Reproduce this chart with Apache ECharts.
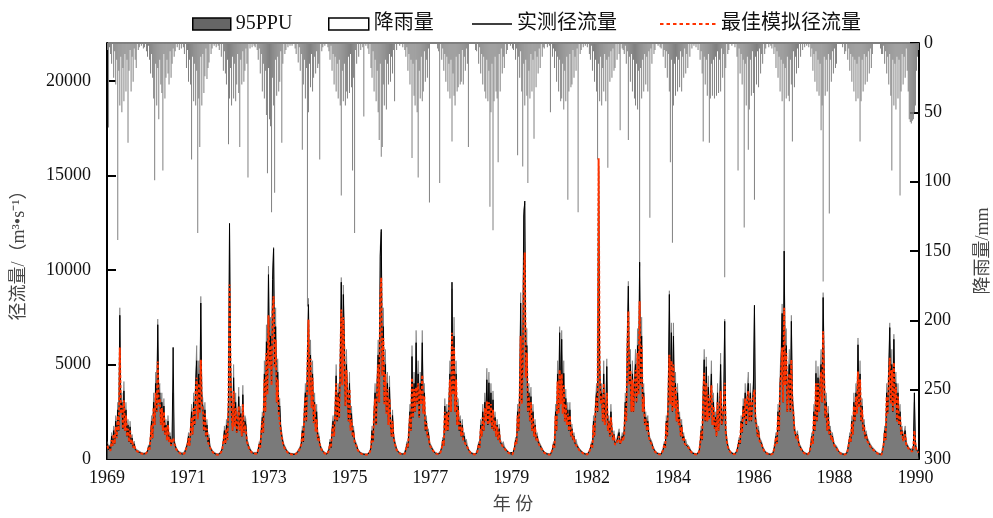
<!DOCTYPE html>
<html><head><meta charset="utf-8">
<script src="https://cdn.jsdelivr.net/npm/echarts@6/dist/echarts.min.js"></script>
<style>html,body{margin:0;padding:0;background:#fff}#c{width:993px;height:518px}</style>
</head><body><div id="c"></div>
<script>
// ---- data (dekad resolution, 36 values per year, 1969-1990) ----
const startYear = 1969;
const yearCount = 22;
const binsPerYear = 36;
const xTickDays = [0, 800, 1600, 2400, 3200, 4000, 4800, 5600, 6400, 7200, 8000];
const flowTicks = [0, 5000, 10000, 15000, 20000];

// observed runoff (m3/s)
const obsFlow = [
/*1969*/800,500,650,450,1200,700,1500,800,2000,1200,2600,1500,7600,2500,3000,1600,3600,1500,2600,1200,1800,900,1700,800,1100,600,800,500,600,400,450,350,330,300,280,270,
/*1970*/300,280,320,400,650,500,1200,2000,1100,3000,1800,4000,2500,7100,3000,3500,1800,3000,1500,2800,1300,1800,1000,2000,900,1200,700,1000,5900,900,700,550,450,380,330,300,
/*1971*/300,260,280,300,450,380,800,1200,700,1500,2500,1300,3000,1800,4000,5200,2200,4500,2500,8250,3000,2800,1500,2600,1200,1800,900,1100,600,500,420,350,300,280,250,230,
/*1972*/250,240,300,400,550,450,1500,800,1800,1000,3000,12460,5000,2500,1500,4300,1800,3000,1400,1800,3300,1500,2400,1200,3400,1400,2000,1800,900,800,600,500,400,350,300,280,
/*1973*/300,280,300,500,800,600,1500,2200,1400,4500,2500,6200,3500,9750,5000,6500,4000,9500,11130,5000,7000,3000,4600,2500,2800,1600,1200,900,700,600,500,400,350,300,280,260,
/*1974*/260,250,240,250,300,350,400,500,600,800,1500,900,2500,3500,2000,5000,8165,3500,5500,2800,4500,2000,3000,1500,2500,1000,1200,800,600,500,400,350,300,280,260,250,
/*1975*/500,900,600,1500,2000,1200,2500,4400,2000,3500,2200,5000,9350,4000,8700,6000,2800,5000,3500,2000,4000,1600,2400,1200,1500,900,1000,700,500,400,350,300,280,260,250,240,
/*1976*/240,230,250,300,400,600,1500,900,2500,3500,1800,4000,5500,3000,10730,12140,4500,7000,3000,5000,2500,4000,1800,3800,2000,1200,2300,1200,900,700,500,400,350,300,280,260,
/*1977*/260,250,300,500,800,600,1500,2500,1500,5420,2200,4000,2500,6150,3000,4500,2200,4000,3000,6150,2500,3500,1500,2000,1200,1400,800,700,600,500,400,350,300,280,260,250,
/*1978*/300,400,600,1000,700,2800,1500,2500,1500,2800,4500,2500,9350,3500,6500,2500,4500,1800,2800,1500,2000,1200,1800,1000,1200,800,900,650,500,400,350,300,280,260,250,240,
/*1979*/300,500,800,600,1800,1200,2500,1500,3000,2200,4190,1800,4030,2000,3500,1600,3130,1500,2200,1200,1800,1000,1600,900,1000,700,800,600,500,450,400,350,300,280,260,250,
/*1980*/300,600,1000,800,2500,1500,3500,8250,3000,5000,12850,13640,4500,6000,2500,3500,2000,3300,1500,2500,1200,1800,1000,1200,900,800,700,600,500,400,350,300,280,260,250,240,
/*1981*/240,300,500,800,600,2500,1500,4500,2500,6680,3000,6330,2500,4530,2000,3200,1800,2600,1500,2600,1200,1600,1000,1200,800,900,700,600,500,450,400,350,300,280,260,250,
/*1982*/250,300,400,500,800,600,2000,1200,2800,3500,2500,15500,5000,3000,3500,2000,4500,1800,2500,4890,1500,2000,1200,2500,1500,1000,1300,800,700,1000,900,1400,800,900,1200,1000,
/*1983*/1500,3000,2000,6000,9140,4000,5000,2500,4500,2500,4000,5000,3000,6000,3500,10410,4000,6500,2500,3500,1800,2200,1500,2000,1200,1000,900,800,600,500,400,350,300,280,260,250,
/*1984*/250,300,500,800,600,2000,1200,3500,8700,3000,6680,2500,6500,2800,4000,2000,3500,1800,2200,1200,1800,1000,1200,800,900,700,700,600,500,400,350,300,280,260,250,240,
/*1985*/240,400,800,1500,1000,3500,5250,2000,4880,2000,3800,2200,3000,4500,1800,3000,1600,2200,1200,3500,1500,2500,5000,1800,2000,3000,7280,1500,1000,700,500,400,350,300,280,260,
/*1986*/260,300,450,700,1000,800,2000,1400,2800,2200,3500,1800,3300,4000,2000,3500,2000,3000,3660,8130,2000,1800,1200,1500,1000,900,800,600,500,400,350,300,280,260,250,240,
/*1987*/240,300,500,800,1200,800,2500,1500,4000,5000,7700,3000,10990,4000,6000,2500,4000,5000,2500,7280,3000,2500,1500,1600,1100,1300,900,700,600,500,400,350,300,280,260,250,
/*1988*/250,400,800,1200,800,2500,1500,4530,2000,4300,2500,4000,5000,3000,8540,4500,2200,3000,1500,2400,1300,1500,1000,1200,900,700,700,600,500,400,350,300,280,260,250,240,
/*1989*/250,300,500,800,1200,900,2000,1300,3000,2000,3500,2500,6040,2800,4500,2000,2800,1500,1800,1100,1300,1000,900,800,700,600,550,500,450,400,350,300,280,260,250,240,
/*1990*/300,800,1500,1000,3500,2500,4500,6950,3000,5000,2500,6330,3000,4000,2000,3500,1800,2500,1300,1500,1000,900,1500,800,700,600,500,500,450,400,600,3500,800,500,400,350
];

// best simulated runoff (m3/s)
const simFlow = [
/*1969*/700,500,600,450,1000,700,1300,800,1700,1100,2300,1500,5890,2400,2800,1600,3100,1500,2300,1200,1600,900,1500,800,1000,600,750,500,550,400,420,340,320,290,270,260,
/*1970*/290,270,300,380,600,480,1100,1800,1100,2700,1800,3500,2500,5160,2800,3200,1800,2700,1500,2500,1300,1700,1000,1800,900,1100,700,950,1100,850,650,520,430,370,320,290,
/*1971*/280,250,270,290,420,370,750,1100,700,1400,2200,1300,2700,1800,3600,4300,2100,4000,2400,5250,2800,2600,1500,2400,1200,1600,900,1000,600,480,400,340,290,270,240,220,
/*1972*/240,230,290,380,520,430,1300,800,1600,1000,2800,9230,4500,2400,1500,3600,1700,2700,1400,1700,2800,1500,2200,1200,2900,1400,1800,1500,900,750,550,450,380,330,290,260,
/*1973*/280,260,280,480,750,600,1400,2000,1400,4200,2500,5600,3400,7600,4800,6000,3900,7800,8600,4800,6300,3000,4200,2400,2500,1500,1150,850,650,550,450,380,330,290,270,250,
/*1974*/240,230,220,230,280,330,380,480,580,750,1400,900,2300,3300,2000,4700,7370,3400,5300,2700,4300,1900,2900,1450,2100,1000,1150,750,570,480,380,330,290,260,250,240,
/*1975*/450,800,600,1400,1800,1200,2300,4000,2000,3300,2200,4600,7900,3900,7500,5600,2800,4700,3300,2000,3700,1500,2100,1200,1400,900,950,650,480,380,330,290,270,250,240,230,
/*1976*/230,220,240,280,380,580,1300,900,2300,3200,1800,3700,5000,3000,8500,9600,4400,6400,2900,4500,2400,3700,1800,3200,1900,1200,2000,1100,850,650,480,380,330,290,270,250,
/*1977*/250,240,280,480,750,600,1400,2300,1500,4300,2200,3700,2500,3800,2900,4000,2200,3700,2900,4450,2400,3300,1500,1900,1150,1300,800,650,570,480,380,330,290,270,250,240,
/*1978*/280,380,550,950,700,2500,1500,2400,1500,2700,4200,2500,6680,3400,5900,2500,4200,1800,2600,1500,1900,1200,1700,1000,1100,800,850,620,480,380,330,290,270,250,240,230,
/*1979*/280,450,750,600,1600,1200,2200,1500,2700,2000,3040,1800,3000,1900,2900,1600,2600,1500,2000,1200,1700,1000,1450,900,950,700,750,570,480,430,380,330,290,270,250,240,
/*1980*/280,550,950,800,2300,1500,3200,6500,2900,4700,9500,10920,4300,5600,2500,3300,2000,3000,1500,2200,1200,1700,1000,1150,850,750,650,570,480,380,330,290,270,250,240,230,
/*1981*/230,280,480,750,600,2300,1500,4100,2400,4720,2900,4500,2400,3900,2000,2900,1800,2400,1500,2300,1200,1500,1000,1150,800,850,650,570,480,430,380,330,290,270,250,240,
/*1982*/240,280,380,480,750,600,1800,1200,2600,3300,2500,15900,4700,2900,3300,2000,4000,1800,2400,3500,1500,1900,1200,2200,1450,1000,1250,750,650,900,850,1200,800,850,1100,950,
/*1983*/1300,2700,2000,5600,7810,3900,4700,2500,4200,2500,3800,4700,3000,5600,3400,8340,3900,6000,2500,3300,1800,2100,1500,1900,1150,950,850,750,570,480,380,330,290,270,250,240,
/*1984*/240,280,480,750,600,1900,1200,3200,5510,2900,5200,2500,5000,2700,3800,2000,3100,1800,2100,1200,1700,1000,1150,800,850,700,650,570,480,380,330,290,270,250,240,230,
/*1985*/230,380,750,1400,1000,3200,4560,2000,4000,2000,3400,2100,2900,3900,1800,2800,1600,2100,1200,3000,1500,2300,3600,1800,1900,2700,4030,1400,950,650,480,380,330,290,270,250,
/*1986*/250,280,430,650,950,800,1900,1400,2600,2100,3200,1800,3100,3600,2000,3200,2000,2900,3000,3660,2000,1750,1200,1450,950,850,750,570,480,380,330,290,270,250,240,230,
/*1987*/230,280,480,750,1150,800,2300,1500,3700,4600,5900,3000,8000,3900,5600,2500,3800,4500,2500,5250,2900,2400,1500,1550,1050,1250,850,650,570,480,380,330,290,270,250,240,
/*1988*/240,380,750,1150,800,2300,1500,4000,2000,4000,2500,3700,4600,3000,6750,4200,2200,2800,1500,2200,1300,1450,1000,1150,850,700,650,570,480,380,330,290,270,250,240,230,
/*1989*/240,280,480,750,1150,900,1900,1300,2800,2000,3300,2400,4630,2700,4200,2000,2600,1500,1700,1100,1250,950,850,750,650,570,520,480,430,380,330,290,270,250,240,230,
/*1990*/280,750,1400,1000,3300,2400,4200,5350,2900,4700,2500,5100,2900,3800,2000,3300,1800,2300,1300,1450,950,850,1300,750,650,570,480,480,430,380,550,1500,750,480,380,330
];

// 95PPU upper bound (m3/s)
const ppuUpper = [
/*1969*/920,600,750,520,1400,820,1750,950,2300,1400,3000,1750,8000,2900,3500,1900,4100,1750,3000,1400,2100,1050,2000,950,1300,700,950,600,700,480,520,420,390,350,330,320,
/*1970*/350,330,370,460,750,580,1400,2300,1300,3500,2100,4600,2900,7400,3500,4000,2100,3500,1750,3200,1500,2100,1150,2300,1050,1400,820,1200,3500,1050,820,640,520,440,380,350,
/*1971*/350,300,330,350,520,440,920,1400,820,1750,2900,1500,3500,2100,4600,6000,2600,5200,2900,8600,3500,3200,1750,3000,1400,2100,1050,1300,700,580,490,410,350,330,290,270,
/*1972*/290,280,350,460,640,520,1750,920,2100,1150,3500,12200,5800,2900,1750,5000,2100,3500,1600,2100,3800,1750,2800,1400,3900,1600,2300,2100,1050,920,700,580,460,400,350,320,
/*1973*/350,320,350,580,920,700,1750,2500,1600,5200,2900,7100,4000,10200,5800,7500,4600,10000,11200,5800,8000,3500,5300,2900,3200,1850,1400,1050,800,700,580,460,400,350,320,300,
/*1974*/300,290,280,290,350,400,460,580,700,920,1750,1050,2900,4000,2300,5800,8500,4000,6300,3200,5200,2300,3500,1750,2900,1150,1400,920,700,580,460,400,350,320,300,290,
/*1975*/580,1050,700,1750,2300,1400,2900,5000,2300,4000,2500,5800,9600,4600,9200,6900,3200,5800,4000,2300,4600,1850,2800,1400,1750,1050,1150,800,580,460,400,350,320,300,290,280,
/*1976*/280,270,290,350,460,700,1750,1050,2900,4000,2100,4600,6300,3500,11200,12000,5200,8000,3500,5800,2900,4600,2100,4400,2300,1400,2600,1400,1050,800,580,460,400,350,320,300,
/*1977*/300,290,350,580,920,700,1750,2900,1750,6000,2500,4600,2900,6800,3500,5200,2500,4600,3500,6800,2900,4000,1750,2300,1400,1600,920,800,700,580,460,400,350,320,300,290,
/*1978*/350,460,700,1150,800,3200,1750,2900,1750,3200,5200,2900,9000,4000,7500,2900,5200,2100,3200,1750,2300,1400,2100,1150,1400,920,1050,750,580,460,400,350,320,300,290,280,
/*1979*/350,580,920,700,2100,1400,2900,1750,3500,2500,4800,2100,4600,2300,4000,1850,3600,1750,2500,1400,2100,1150,1850,1050,1150,800,920,700,580,520,460,400,350,320,300,290,
/*1980*/350,700,1150,920,2900,1750,4000,8800,3500,5800,13200,13500,5200,6900,2900,4000,2300,3800,1750,2900,1400,2100,1150,1400,1050,920,800,700,580,460,400,350,320,300,290,280,
/*1981*/280,350,580,920,700,2900,1750,5200,2900,7000,3500,6800,2900,5200,2300,3700,2100,3000,1750,3000,1400,1850,1150,1400,920,1050,800,700,580,520,460,400,350,320,300,290,
/*1982*/290,350,460,580,920,700,2300,1400,3200,4000,2900,15200,5800,3500,4000,2300,5200,2100,2900,5300,1750,2300,1400,2900,1750,1150,1500,920,800,1150,1050,1600,920,1050,1400,1150,
/*1983*/1750,3500,2300,6900,9400,4600,5800,2900,5200,2900,4600,5800,3500,6900,4000,10400,4600,7500,2900,4000,2100,2500,1750,2300,1400,1150,1050,920,700,580,460,400,350,320,300,290,
/*1984*/290,350,580,920,700,2300,1400,4000,8900,3500,7200,2900,7200,3200,4600,2300,4000,2100,2500,1400,2100,1150,1400,920,1050,800,800,700,580,460,400,350,320,300,290,280,
/*1985*/280,460,920,1750,1150,4000,5800,2300,5400,2300,4400,2500,3500,5200,2100,3500,1850,2500,1400,4000,1750,2900,5600,2100,2300,3500,7400,1750,1150,800,580,460,400,350,320,300,
/*1986*/300,350,520,800,1150,920,2300,1600,3200,2500,4000,2100,3800,4600,2300,4000,2300,3500,4200,8000,2300,2100,1400,1750,1150,1050,920,700,580,460,400,350,320,300,290,280,
/*1987*/280,350,580,920,1400,920,2900,1750,4600,5800,8200,3500,11000,4600,6900,2900,4600,5800,2900,7600,3500,2900,1750,1850,1300,1500,1050,800,700,580,460,400,350,320,300,290,
/*1988*/290,460,920,1400,920,2900,1750,5200,2300,4900,2900,4600,5800,3500,8800,5200,2500,3500,1750,2800,1500,1750,1150,1400,1050,800,800,700,580,460,400,350,320,300,290,280,
/*1989*/290,350,580,920,1400,1050,2300,1500,3500,2300,4000,2900,6400,3200,5200,2300,3200,1750,2100,1300,1500,1150,1050,920,800,700,640,580,520,460,400,350,320,300,290,280,
/*1990*/350,920,1750,1150,4000,2900,5200,7200,3500,5800,2900,6600,3500,4600,2300,4000,2100,2900,1500,1750,1150,1050,1750,920,800,700,580,580,520,460,700,3000,920,580,460,400
];

// rainfall (mm)
const rainfall = [
/*1969*/5,61,3,8,15,0,25,6,30,12,142,20,45,10,50,18,42,8,35,12,72,20,5,35,10,28,4,12,18,0,5,3,0,2,0,4,
/*1970*/3,0,6,10,2,12,22,8,25,40,99,15,45,18,55,12,30,36,92,8,40,25,12,22,30,6,25,15,4,10,6,0,3,0,5,0,
/*1971*/4,0,3,8,0,18,5,28,12,30,84,10,42,15,45,20,137,40,75,10,45,8,36,24,4,26,18,14,0,8,4,0,2,0,3,0,
/*1972*/2,5,0,10,0,20,6,22,30,12,73,40,18,45,10,40,15,42,30,8,36,75,12,30,6,28,20,4,15,97,0,4,0,3,0,2,
/*1973*/3,0,5,12,4,22,8,35,15,40,20,52,94,18,55,60,122,25,45,108,12,38,10,35,28,6,72,15,0,8,5,0,3,0,2,0,
/*1974*/2,0,0,4,8,0,14,3,20,8,77,30,12,40,18,190,50,15,32,8,35,25,10,22,6,18,15,84,0,6,3,0,2,0,0,3,
/*1975*/6,12,2,20,8,30,10,35,15,40,12,45,110,20,42,15,45,35,40,10,36,8,32,92,25,137,5,15,0,10,0,5,0,3,53,0,
/*1976*/2,0,4,8,0,18,25,6,35,12,42,20,50,70,15,82,75,30,45,12,48,15,30,8,28,10,22,5,42,0,5,0,0,2,0,0,
/*1977*/3,0,5,10,3,20,8,30,12,83,15,38,45,12,50,97,20,40,10,42,35,6,28,12,25,4,115,0,0,0,0,0,0,0,4,6,
/*1978*/101,0,12,4,20,8,28,10,35,15,40,12,71,22,38,45,10,35,32,8,30,28,5,30,10,20,4,15,75,0,0,0,0,0,0,5,
/*1979*/6,0,15,3,22,8,30,10,35,40,12,42,20,118,50,15,135,42,10,35,40,86,8,35,4,22,10,18,0,8,5,0,0,2,0,4,
/*1980*/5,0,12,4,81,10,25,6,35,89,15,45,12,38,101,20,40,8,35,12,69,6,32,10,22,4,18,0,10,3,4,0,0,3,0,2,
/*1981*/50,0,10,4,18,6,28,10,35,12,42,40,15,48,20,42,10,113,35,8,32,30,5,25,10,20,4,122,0,8,5,0,3,0,2,0,
/*1982*/3,0,8,12,2,20,6,28,12,35,84,15,42,10,45,18,35,8,42,12,90,10,28,6,25,4,20,18,0,12,0,8,63,0,4,5,
/*1983*/8,2,15,6,70,10,28,8,35,12,40,45,15,48,20,161,18,40,12,35,8,30,10,35,6,126,4,15,0,8,5,0,0,2,0,3,
/*1984*/4,0,10,5,18,6,25,8,35,86,12,144,45,15,38,10,35,12,32,6,35,10,25,4,22,8,18,0,10,0,4,0,2,0,3,0,
/*1985*/5,0,12,6,22,71,10,30,12,38,8,72,40,15,38,12,40,10,38,6,36,12,35,4,25,8,169,18,0,8,5,0,0,2,0,0,
/*1986*/3,0,10,92,4,22,8,30,12,133,15,45,10,77,48,12,38,6,36,113,10,30,6,32,4,22,8,15,0,8,4,0,0,3,0,2,
/*1987*/4,0,8,3,18,6,25,10,35,12,42,15,151,18,40,10,38,42,12,30,71,6,32,10,22,4,18,0,10,0,5,0,3,0,2,0,
/*1988*/3,0,10,4,20,8,28,6,35,12,38,15,63,45,172,10,38,12,35,8,123,12,28,6,22,4,18,15,0,0,0,0,0,3,0,8,
/*1989*/6,0,12,4,20,8,28,10,35,12,42,15,40,10,71,42,12,35,8,30,10,28,6,22,4,18,8,0,0,0,0,0,0,0,4,8,
/*1990*/8,2,15,6,22,10,30,8,38,92,12,45,15,48,10,40,12,110,35,8,30,10,25,4,20,35,55,57,58,56,55,50,45,20,10,5
];

// ---- build (x = day offset from 1969-01-01, centre of each dekad) ----
const dayOf = i => (i + 0.5) * 365.25 / binsPerYear;
const pairs = arr => arr.map((v, i) => [dayOf(i), v]);
const totalDays = yearCount * 365.25;

const serif = "'Liberation Serif','Noto Sans CJK SC',serif";
const legendText = {fontFamily: serif, fontSize: 20, color: '#111'};
// legend icon paths (tiny corner specks fix the bounding box so the mark keeps its thickness)
const corner = (w, h) => ` M0,0H0.01V0.01H0Z M${w - 0.01},${h - 0.01}H${w}V${h}H${w - 0.01}Z`;
const lineIcon = 'path://M0,5.3H40V6.7H0Z' + corner(40, 12);
let dashPath = 'path://';
for (let x = 0; x < 56; x += 6.5) dashPath += `M${x},5H${x + 3.5}V7H${x}Z `;
const dashIcon = dashPath + corner(56, 12);

const chart = echarts.init(document.getElementById('c'), null, {renderer: 'canvas'});
chart.setOption({
  animation: false,
  backgroundColor: '#fff',
  grid: {left: 107, right: 74, top: 43, bottom: 59, show: true, borderColor: '#000', borderWidth: 1,
         containLabel: false, outerBoundsMode: 'none'},
  legend: [
    {left: 187, top: 9, itemWidth: 38, itemHeight: 12, textStyle: legendText,
     data: [{name: '95PPU', icon: 'rect', itemStyle: {color: '#666', borderColor: '#000', borderWidth: 1.5}}]},
    {left: 323, top: 9, itemWidth: 40, itemHeight: 12, textStyle: legendText,
     data: [{name: '降雨量', icon: 'rect', itemStyle: {color: '#fff', borderColor: '#000', borderWidth: 1.5}}]},
    {left: 467, top: 9, itemWidth: 40, itemHeight: 12, textStyle: legendText,
     data: [{name: '实测径流量', icon: lineIcon, itemStyle: {color: '#000', borderWidth: 0}}]},
    {left: 655, top: 9, itemWidth: 56, itemHeight: 12, textStyle: legendText,
     data: [{name: '最佳模拟径流量', icon: dashIcon, itemStyle: {color: '#ff3300', borderWidth: 0}}]}
  ],
  xAxis: {
    type: 'value', min: 0, max: totalDays,
    name: '年 份', nameLocation: 'middle', nameGap: 37,
    nameTextStyle: {fontFamily: serif, fontSize: 18, color: '#444'},
    axisLine: {lineStyle: {color: '#000', width: 2}},
    axisTick: {inside: true, length: 7, lineStyle: {color: '#000', width: 2}, customValues: xTickDays},
    axisLabel: {
      customValues: xTickDays, margin: 10,
      fontFamily: serif, fontSize: 18, color: '#111',
      formatter: v => String(new Date(Date.UTC(startYear, 0, 1) + v * 86400000).getUTCFullYear())
    },
    splitLine: {show: false}
  },
  yAxis: [
    {
      type: 'value', min: 0, max: 22000, position: 'left',
      name: '径流量/（m³•s⁻¹）', nameLocation: 'middle', nameGap: 79, nameRotate: 90,
      nameTextStyle: {fontFamily: serif, fontSize: 18, color: '#444'},
      axisLine: {show: true, lineStyle: {color: '#000', width: 2}},
      axisTick: {show: true, inside: true, length: 9, lineStyle: {color: '#000', width: 2}, customValues: flowTicks},
      axisLabel: {customValues: flowTicks, margin: 16, fontFamily: serif, fontSize: 18, color: '#111',
                  formatter: v => String(v)},
      splitLine: {show: false}
    },
    {
      type: 'value', min: 0, max: 300, interval: 50, inverse: true, position: 'right',
      name: '降雨量/mm', nameLocation: 'middle', nameGap: 55, nameRotate: 90,
      nameTextStyle: {fontFamily: serif, fontSize: 18, color: '#444'},
      axisLine: {show: true, lineStyle: {color: '#000', width: 2}},
      axisTick: {show: true, inside: true, length: 9, lineStyle: {color: '#000', width: 2}},
      axisLabel: {margin: 5, fontFamily: serif, fontSize: 18, color: '#111', formatter: v => String(v)},
      splitLine: {show: false}
    }
  ],
  series: [
    {
      name: '降雨量', type: 'bar', yAxisIndex: 1, data: pairs(rainfall),
      barWidth: 0.8, itemStyle: {color: '#808080'}
    },
    {
      name: '95PPU', type: 'line', data: pairs(ppuUpper), symbol: 'none',
      lineStyle: {width: 0.6, color: '#6a6a6a'}, itemStyle: {color: '#666'},
      areaStyle: {color: '#7a7a7a', opacity: 1}
    },
    {
      name: '实测径流量', type: 'line', data: pairs(obsFlow), symbol: 'none',
      lineStyle: {width: 1, color: '#000'}, itemStyle: {color: '#000'}
    },
    {
      name: '最佳模拟径流量', type: 'line', data: pairs(simFlow), symbol: 'none',
      lineStyle: {width: 2, color: '#ff3300', type: [3, 2]}, itemStyle: {color: '#ff3300'}
    }
  ]
});
</script>
</body></html>
